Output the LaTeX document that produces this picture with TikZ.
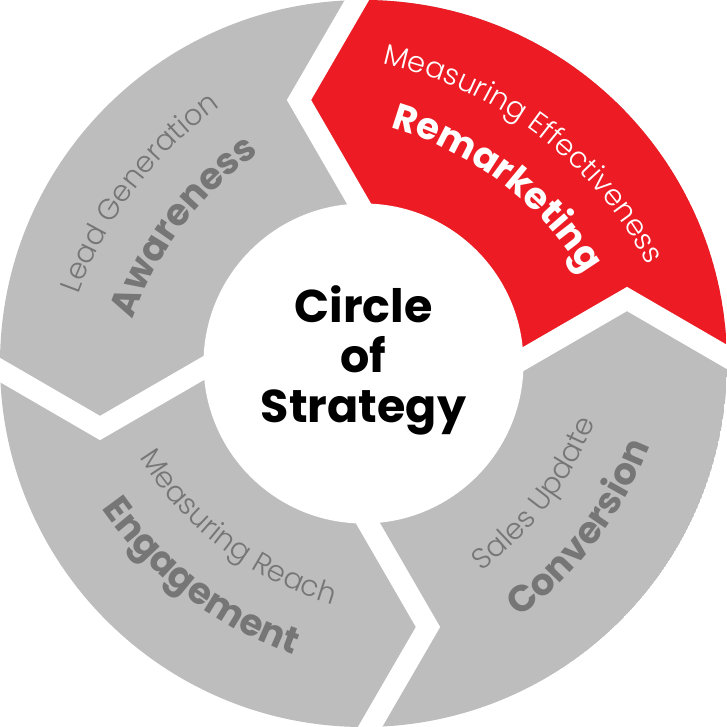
\documentclass[tikz,border=0pt]{standalone}
\usepackage{fontspec}
\usetikzlibrary{decorations.text,calc}
\IfFontExistsTF{Poppins Light}{\newfontfamily\poplight{Poppins Light}}{\newfontfamily\poplight{Poppins}}
\IfFontExistsTF{Poppins Bold}{\newfontfamily\popsemi{Poppins Bold}}{\newfontfamily\popsemi{Poppins}[FakeBold=2]}
\IfFontExistsTF{Poppins Bold}{\newfontfamily\popbold{Poppins Bold}}{\newfontfamily\popbold{Poppins}[FakeBold=2.5]}
\definecolor{segred}{HTML}{ED1C24}
\definecolor{seggray}{HTML}{BDBDBD}
\definecolor{txtgray}{HTML}{767676}
\tikzset{
  gapline/.style={draw=white, line width=21pt, line join=miter, miter limit=10},
}
\newcommand\lightsize{\poplight\fontsize{29}{29}\selectfont}
\newcommand\boldsize{\popbold\fontsize{37}{37}\selectfont}
\newcommand\arcline[7]{% #1 phi, #2 radius, #3 start, #4 end, #5 font, #6 colour, #7 text
  \path[decorate, decoration={text along path, text align=center,
      text={|#5\color{#6}|#7}}]
    ($(#1+180:105)+(#3:#2)$) arc[start angle=#3, end angle=#4, radius=#2];}
\begin{document}
\begin{tikzpicture}[x=1pt,y=1pt]
\useasboundingbox (-363.5,-363.5) rectangle (363.5,363.5);
\begin{scope}
  \clip (0,0) circle (363.5);
  \fill[seggray] (0,0) circle (363.5);
  \fill[segred] (0,0) -- (141.1,-6.3) -- (263.5,64.5) -- (393.5,-10.9) -- (500,-10.9)
     -- (500,500) -- (10.9,500) -- (10.9,393.5) -- (-64.5,263.5) -- (6.3,141.1) -- cycle;
\end{scope}
\foreach \r in {0,-90,-180,-270}
  \draw[gapline, rotate=\r] (10.9,393.5) -- (-64.5,263.5) -- (6.3,141.1);
\fill[white] (0,0) circle (160);
% Remarketing (phi = 52.75)
\arcline{52.75}{392}{112.75}{-7.25}{\lightsize}{white}{Measuring Effectiveness}
\arcline{52.75}{332}{112.75}{-7.25}{\boldsize}{white}{Remarketing}
% Awareness (phi = 142.75)
\arcline{142.75}{392}{202.75}{82.75}{\lightsize}{txtgray}{Lead Generation}
\arcline{142.75}{332}{202.75}{82.75}{\boldsize}{txtgray}{Awareness}
% Engagement (phi = 232.75)
\arcline{232.75}{338}{172.75}{292.75}{\lightsize}{txtgray}{Measuring Reach}
\arcline{232.75}{398}{172.75}{292.75}{\boldsize}{txtgray}{Engagement}
% Conversion (phi = 322.75)
\arcline{322.75}{338}{262.75}{382.75}{\lightsize}{txtgray}{Sales Update}
\arcline{322.75}{398}{262.75}{382.75}{\boldsize}{txtgray}{Conversion}
% centre
\node[anchor=base, inner sep=0] (c1) at (0,40.5) {\popsemi\fontsize{46}{50}\selectfont Circle};
\node[anchor=base, inner sep=0] (c2) at (0,-9.5) {\popsemi\fontsize{46}{50}\selectfont of};
\node[anchor=base, inner sep=0] (c3) at (0,-59.5) {\popsemi\fontsize{46}{50}\selectfont Strategy};
\end{tikzpicture}
\end{document}
